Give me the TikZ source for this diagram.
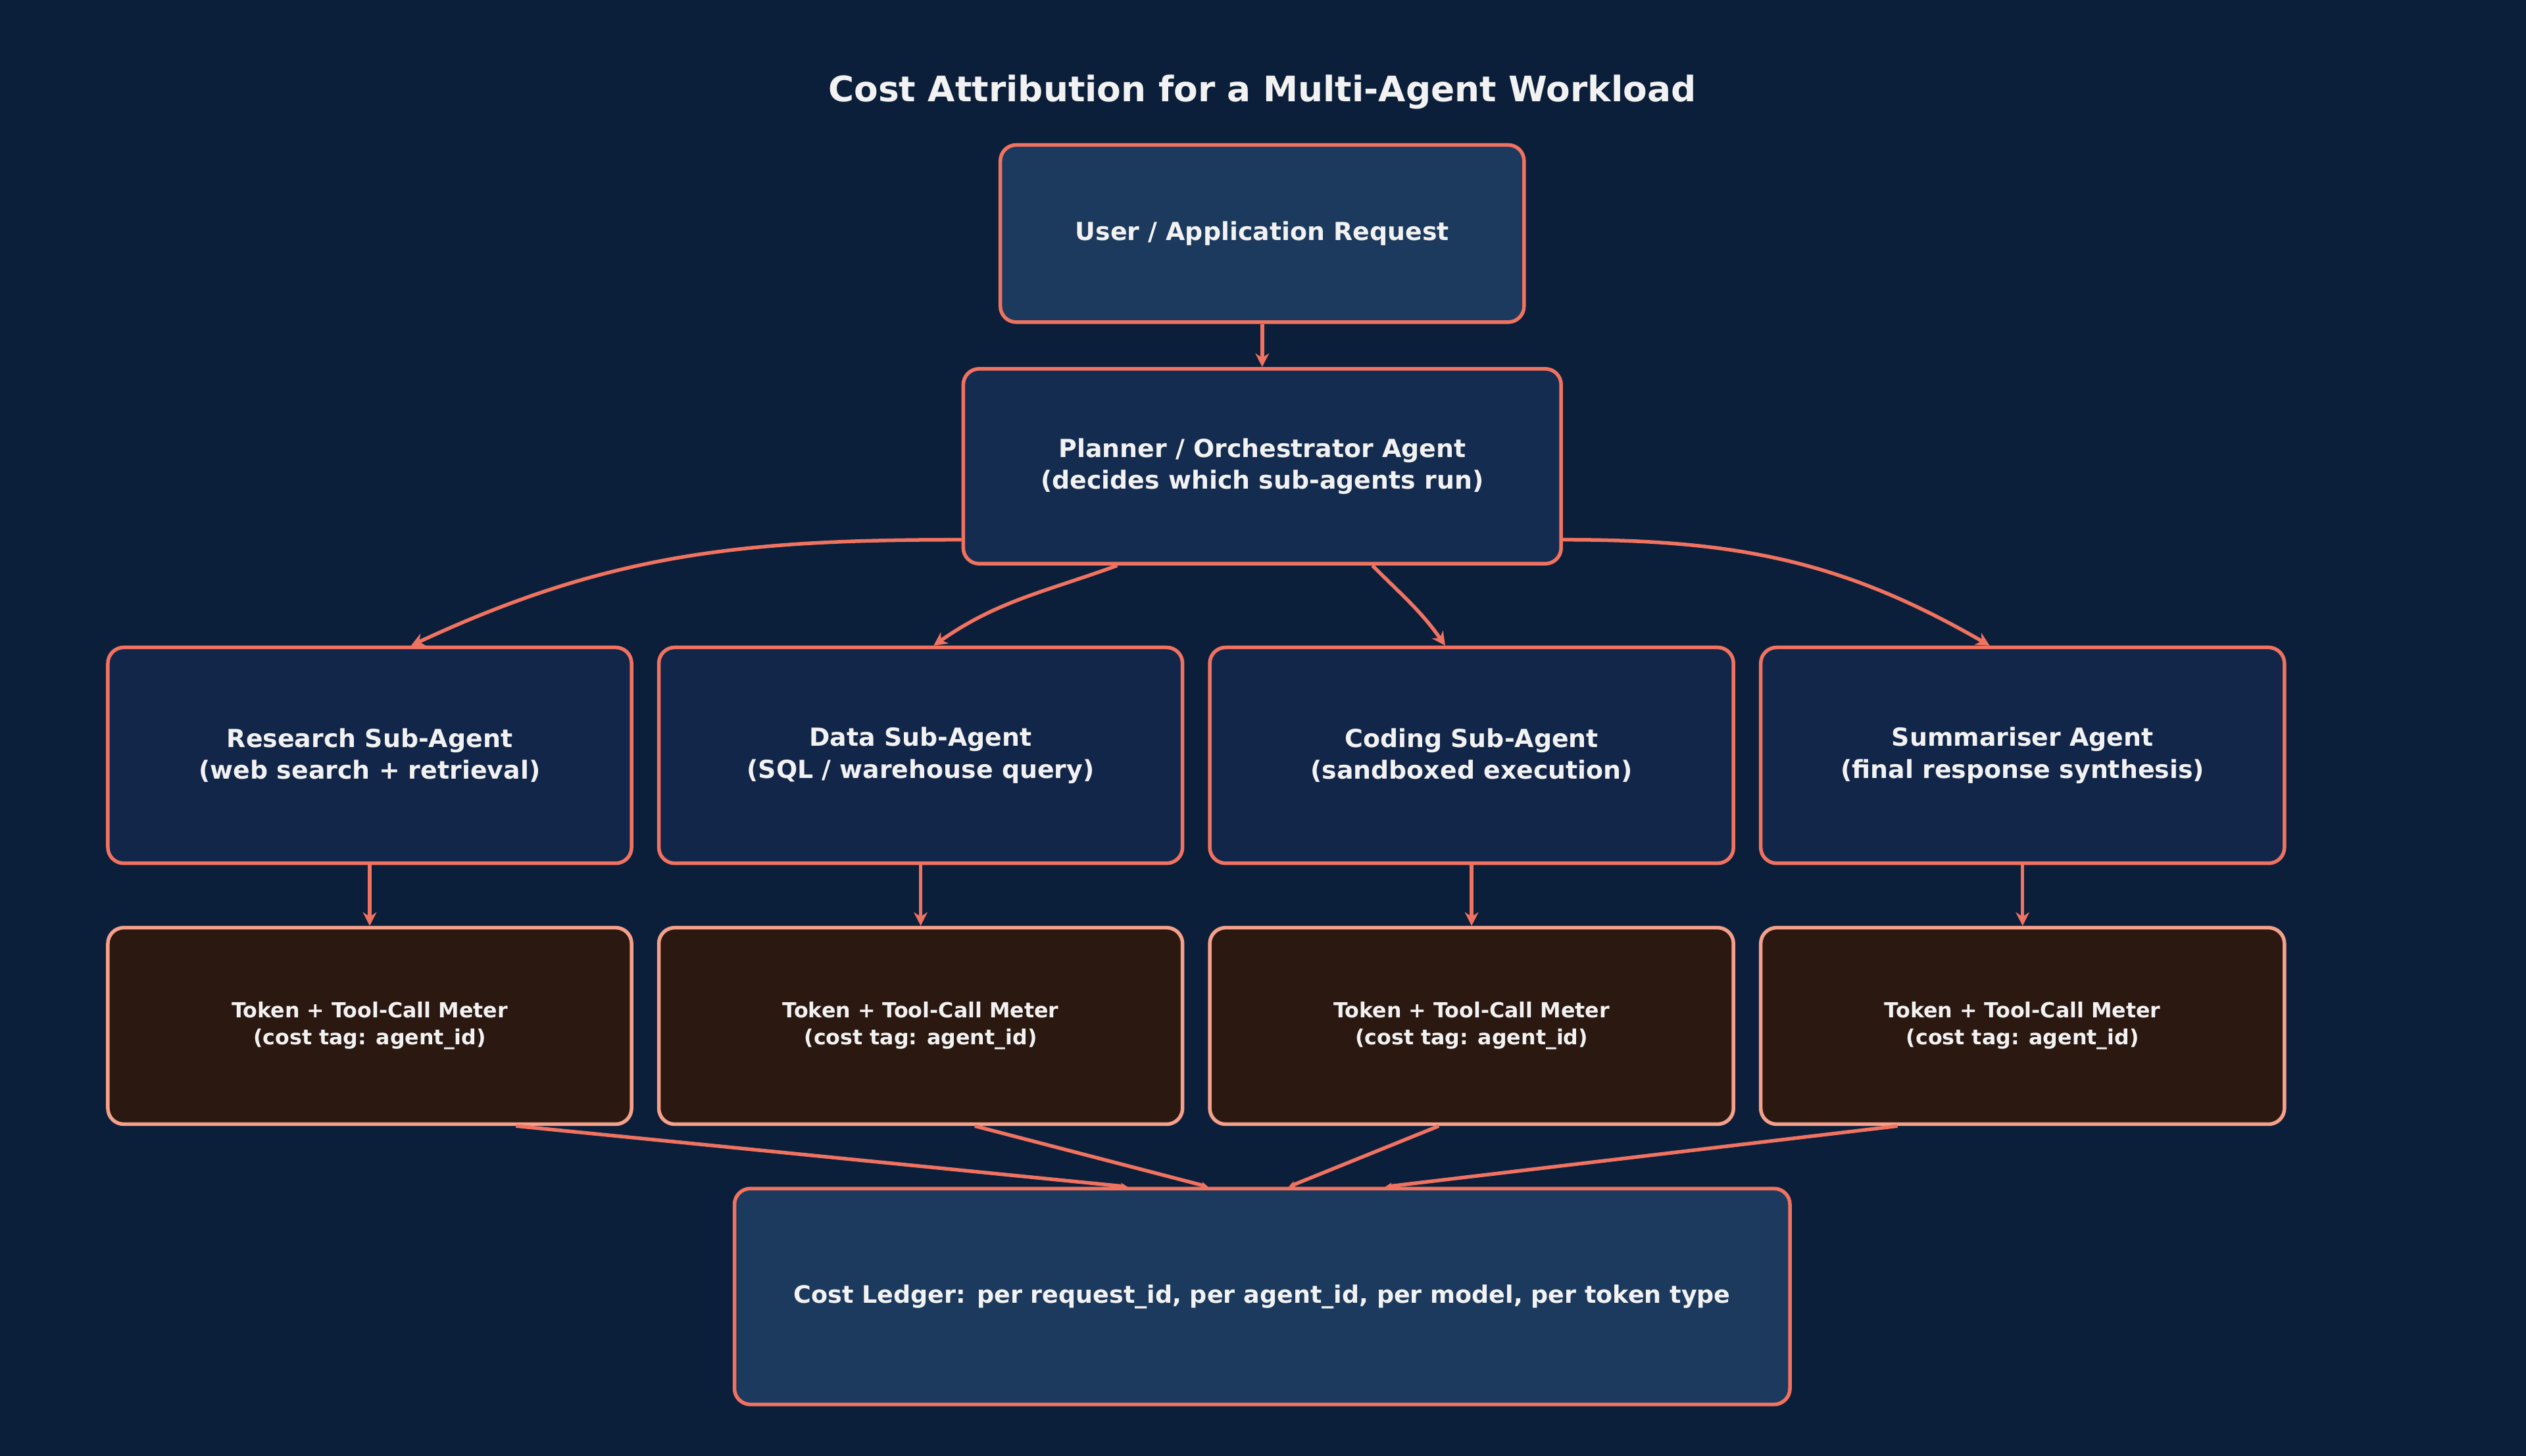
\documentclass[tikz,border=0pt]{standalone}
\usepackage{fontspec}
\setmainfont{DejaVu Sans}
\usetikzlibrary{arrows.meta,positioning}
\definecolor{bgblue}{HTML}{0B1F3A}
\definecolor{userfill}{HTML}{1C3A5E}
\definecolor{planfill}{HTML}{142C50}
\definecolor{subfill}{HTML}{12264A}
\definecolor{meterfill}{HTML}{2B1811}
\definecolor{edgecol}{HTML}{F07260}
\definecolor{meteredge}{HTML}{F4A08A}
\definecolor{txt}{HTML}{F2F2F2}

\begin{document}
\begin{tikzpicture}[x=0.025cm,y=-0.025cm]
	\tikzstyle{Box}		= [draw=edgecol, line width=1.6pt, rounded corners=7pt, align=center, text=txt, font=\bfseries\fontsize{11}{14}\selectfont, inner sep=0pt]
	\tikzstyle{Agent}	= [Box, fill=subfill, minimum width=8.125cm, minimum height=3.35cm]
	\tikzstyle{Meter}	= [Box, draw=meteredge, fill=meterfill, minimum width=8.125cm, minimum height=3.05cm, font=\bfseries\fontsize{9.2}{12}\selectfont]
	\tikzstyle{Flow}	= [draw=edgecol, line width=1.6pt, -{Stealth[length=6pt,width=6pt]}]
	\tikzstyle{Join}	= [draw=edgecol, line width=1.6pt, -{Stealth[length=3pt,width=3pt]}]

	\fill[bgblue] (0,0) rectangle (1568,904);
	\useasboundingbox (0,0) rectangle (1568,904);

	\node (title) at (783.5,57) [text=txt, font=\bfseries\fontsize{15.5}{18}\selectfont] {Cost Attribution for a Multi-Agent Workload};

	\node (user) at (783.5,145) [Box, fill=userfill, minimum width=8.125cm, minimum height=2.75cm] {User / Application Request};
	\node (planner) at (783.5,289.5) [Box, fill=planfill, minimum width=9.275cm, minimum height=3.025cm] {Planner / Orchestrator Agent\\(decides which sub-agents run)};

	\node (research) at (229.5,469) [Agent] {Research Sub-Agent\\(web search + retrieval)};
	\node (data) at (571.5,469) [Agent] {Data Sub-Agent\\(SQL / warehouse query)};
	\node (coding) at (913.5,469) [Agent] {Coding Sub-Agent\\(sandboxed execution)};
	\node (summ) at (1255.5,469) [Agent] {Summariser Agent\\(final response synthesis)};

	\node (m1) at (229.5,637) [Meter] {Token + Tool-Call Meter\\(cost tag: agent\_id)};
	\node (m2) at (571.5,637) [Meter] {Token + Tool-Call Meter\\(cost tag: agent\_id)};
	\node (m3) at (913.5,637) [Meter] {Token + Tool-Call Meter\\(cost tag: agent\_id)};
	\node (m4) at (1255.5,637) [Meter] {Token + Tool-Call Meter\\(cost tag: agent\_id)};

	\node (ledger) at (783.5,805) [Box, fill=userfill, minimum width=16.375cm, minimum height=3.35cm, font=\bfseries\fontsize{10.6}{13}\selectfont] {Cost Ledger: per request\_id, per agent\_id, per model, per token type};

	\draw [Flow] (user) -- (planner);
	\draw [Flow] ([yshift=-1.14cm]planner.west) to[out=180,in=25] ([xshift=0.64cm]research.north);
	\draw [Flow] ([xshift=-2.25cm]planner.south) to[out=200,in=35] ([xshift=0.2cm]data.north);
	\draw [Flow] ([xshift=1.71cm]planner.south) to[out=-45,in=125] ([xshift=-0.41cm]coding.north);
	\draw [Flow] ([yshift=-1.14cm]planner.east) to[out=0,in=150] ([xshift=-0.51cm]summ.north);

	\draw [Flow] (research) -- (m1);
	\draw [Flow] (data) -- (m2);
	\draw [Flow] (coding) -- (m3);
	\draw [Flow] (summ) -- (m4);

	\draw [Join] ([xshift=2.27cm]m1.south) -- ([xshift=-2.09cm]ledger.north);
	\draw [Join] ([xshift=0.84cm]m2.south) -- ([xshift=-0.84cm]ledger.north);
	\draw [Join] ([xshift=-0.51cm]m3.south) -- ([xshift=0.41cm]ledger.north);
	\draw [Join] ([xshift=-1.94cm]m4.south) -- ([xshift=1.91cm]ledger.north);
\end{tikzpicture}
\end{document}
